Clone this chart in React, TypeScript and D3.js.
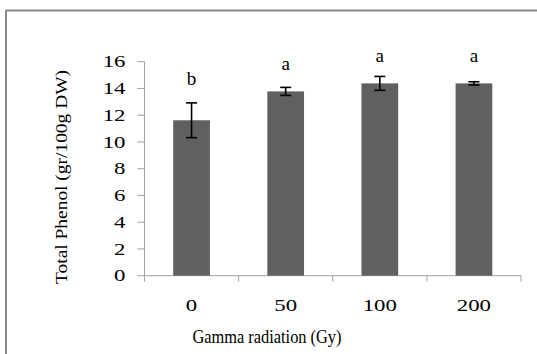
import React, { useEffect, useRef } from 'react';
import * as d3 from 'd3';

const doses = ['0', '50', '100', '200'];
const phenol = [11.62, 13.78, 14.38, 14.38];
const errors = [1.3, 0.3, 0.52, 0.12];
const letters = ['b', 'a', 'a', 'a'];
const letterAt = [14.23, 15.35, 15.95, 15.95];
const yTicks = [0, 2, 4, 6, 8, 10, 12, 14, 16];

const W = 537;
const H = 354;
const serif = "'Liberation Serif'";

const App = () => {
  const svgRef = useRef<SVGSVGElement>(null);

  useEffect(() => {
    const svg = d3.select(svgRef.current);
    svg.selectAll('*').remove();

    const left = 144.5;
    const right = 521;
    const top = 61.7;
    const bottom = 275.7;

    const x = d3.scaleBand().domain(doses).range([left, right]).padding(0);
    const y = d3.scaleLinear().domain([0, 16]).range([bottom, top]);

    // outer frame (only top and left edges visible)
    svg.append('line')
      .attr('x1', 6).attr('x2', W).attr('y1', 10.5).attr('y2', 10.5)
      .attr('stroke', '#8a8a8a').attr('stroke-width', 2);
    svg.append('line')
      .attr('x1', 6).attr('x2', 6).attr('y1', 10).attr('y2', H)
      .attr('stroke', '#8a8a8a').attr('stroke-width', 2);

    const axisColor = '#a3a3a3';
    const digitW = 11.4; // source glyphs are stretched horizontally

    // y axis
    svg.append('line')
      .attr('x1', left).attr('x2', left).attr('y1', top).attr('y2', bottom)
      .attr('stroke', axisColor);
    yTicks.forEach(t => {
      const s = String(t);
      svg.append('line')
        .attr('x1', left - 7).attr('x2', left).attr('y1', y(t)).attr('y2', y(t))
        .attr('stroke', axisColor);
      svg.append('text')
        .attr('x', 125.5 - s.length * digitW).attr('y', y(t)).attr('dy', '0.34em')
        .attr('font-family', serif).attr('font-size', 17)
        .attr('textLength', s.length * digitW).attr('lengthAdjust', 'spacingAndGlyphs')
        .text(s);
    });

    // x axis
    svg.append('line')
      .attr('x1', left).attr('x2', right).attr('y1', bottom).attr('y2', bottom)
      .attr('stroke', axisColor);
    const bounds = [left, ...doses.map(d => (x(d) as number) + x.bandwidth())];
    bounds.forEach(b => {
      svg.append('line')
        .attr('x1', b).attr('x2', b).attr('y1', bottom).attr('y2', bottom + 6)
        .attr('stroke', axisColor);
    });
    doses.forEach(d => {
      const cx = (x(d) as number) + x.bandwidth() / 2;
      svg.append('text')
        .attr('x', cx - (d.length * digitW) / 2).attr('y', 310.5)
        .attr('font-family', serif).attr('font-size', 17)
        .attr('textLength', d.length * digitW).attr('lengthAdjust', 'spacingAndGlyphs')
        .text(d);
    });

    const barW = x.bandwidth() * 0.39;

    doses.forEach((d, i) => {
      const cx = (x(d) as number) + x.bandwidth() / 2;
      svg.append('rect')
        .attr('x', cx - barW / 2).attr('width', barW)
        .attr('y', y(phenol[i])).attr('height', bottom - y(phenol[i]))
        .attr('fill', '#606060');

      const hi = y(phenol[i] + errors[i]);
      const lo = y(phenol[i] - errors[i]);
      const g = svg.append('g').attr('stroke', '#000').attr('stroke-width', 1.6);
      g.append('line').attr('x1', cx).attr('x2', cx).attr('y1', hi).attr('y2', lo);
      g.append('line').attr('x1', cx - 5.5).attr('x2', cx + 5.5).attr('y1', hi).attr('y2', hi);
      g.append('line').attr('x1', cx - 5.5).attr('x2', cx + 5.5).attr('y1', lo).attr('y2', lo);

      svg.append('text')
        .attr('x', cx).attr('y', y(letterAt[i]))
        .attr('text-anchor', 'middle')
        .attr('font-family', serif).attr('font-size', 19)
        .text(letters[i]);
    });

    // axis titles
    svg.append('text')
      .attr('transform', `translate(67, 177) rotate(-90)`)
      .attr('text-anchor', 'middle')
      .attr('font-family', serif).attr('font-size', 17)
      .attr('textLength', 214).attr('lengthAdjust', 'spacingAndGlyphs')
      .text('Total Phenol (gr/100g DW)');

    svg.append('text')
      .attr('x', 267).attr('y', 343)
      .attr('text-anchor', 'middle')
      .attr('font-family', serif).attr('font-size', 18)
      .attr('textLength', 149).attr('lengthAdjust', 'spacingAndGlyphs')
      .text('Gamma radiation (Gy)');
  }, []);

  return (
    <svg
      ref={svgRef}
      width={W}
      height={H}
      style={{ position: 'absolute', left: 0, top: 0, background: '#fff' }}
    />
  );
};

export default App;
